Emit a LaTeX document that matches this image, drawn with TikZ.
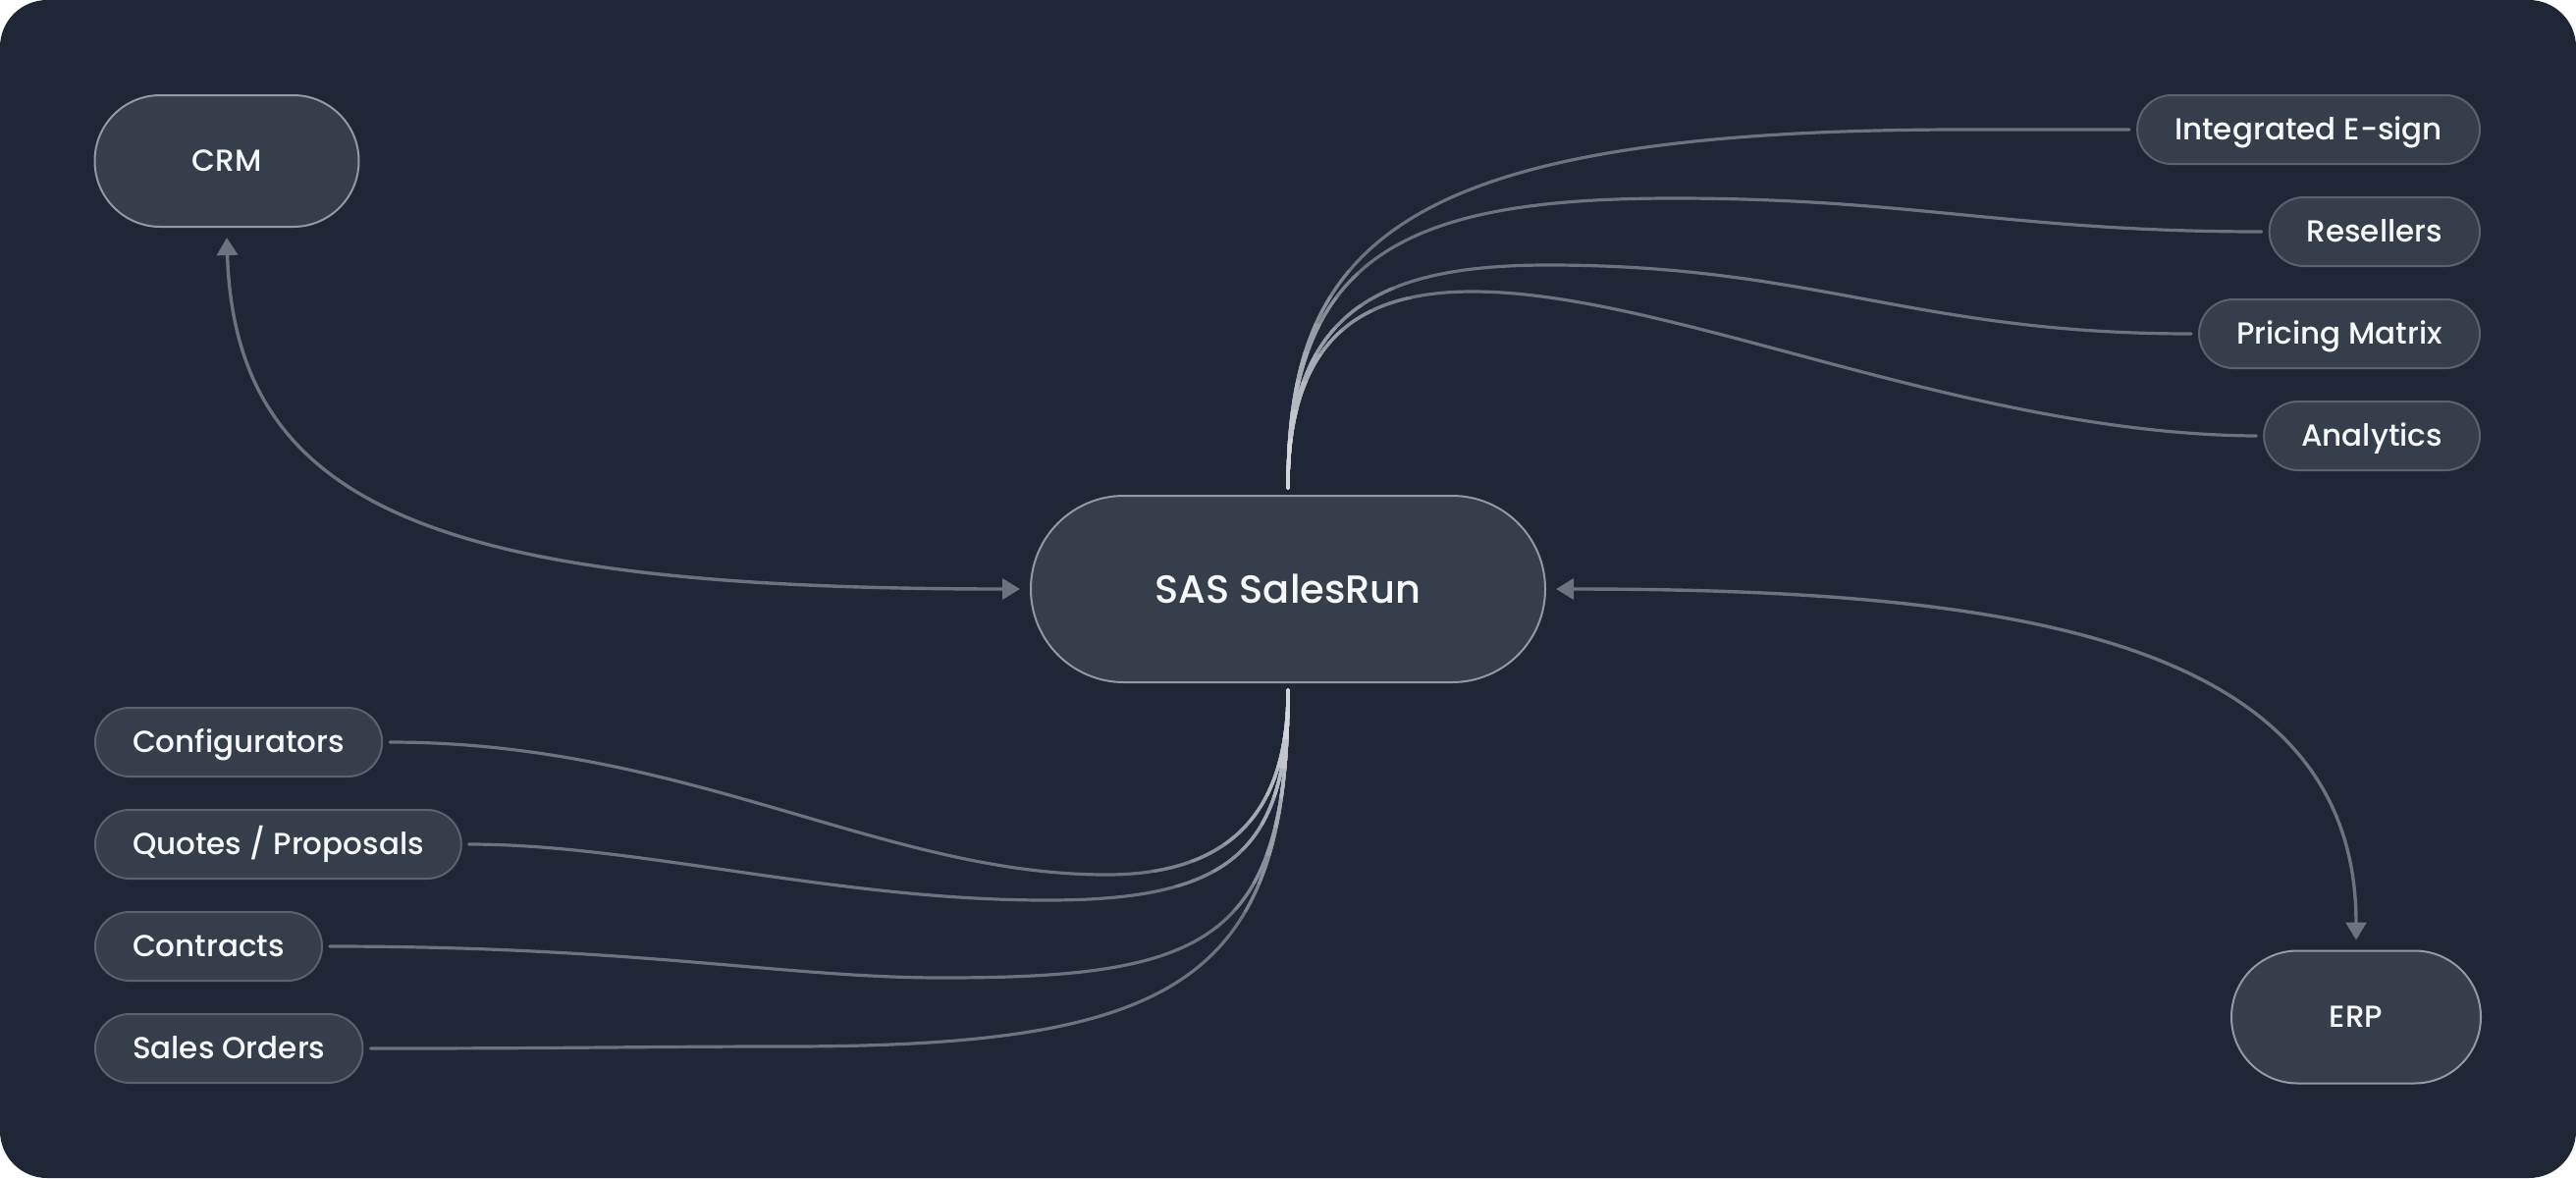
\documentclass[tikz,border=0pt]{standalone}
\usepackage{fontspec}
\IfFontExistsTF{Poppins Medium}{\setmainfont{Poppins Medium}}{\setmainfont{Poppins}[FakeBold=0.5]}
\usetikzlibrary{arrows.meta}
\definecolor{bg}{HTML}{1F2737}
\definecolor{nodefill}{HTML}{363E4B}
\definecolor{bigborder}{HTML}{9399A4}
\definecolor{smallborder}{HTML}{5A6271}
\definecolor{wire}{HTML}{6B7380}
\definecolor{wirelight}{HTML}{D3D6DB}
\definecolor{txt}{HTML}{F7F8FA}
\newcommand{\topwires}[1]{%
  \draw[wirestyle,#1] (tt) .. controls (1312,250) and (1420,132) .. (2000,132) -- (es);
  \draw[wirestyle,#1] (tt) .. controls (1312,260) and (1430,202) .. (1705,202) .. controls (1950,202) and (2050,236) .. (rs);
  \draw[wirestyle,#1] (tt) .. controls (1312,320) and (1400,270) .. (1577,270) .. controls (1850,270) and (1950,340) .. (ps);
  \draw[wirestyle,#1] (tt) .. controls (1312,350) and (1380,297) .. (1500,297) .. controls (1700,297) and (2000,442) .. (as);
}
\newcommand{\botwires}[1]{%
  \draw[wirestyle,#1] (cs) .. controls (700,756) and (900,891) .. (1127,891) .. controls (1260,891) and (1312,820) .. (tb);
  \draw[wirestyle,#1] (qs) .. controls (650,860) and (850,917) .. (1066,917) .. controls (1250,917) and (1312,870) .. (tb);
  \draw[wirestyle,#1] (ks) .. controls (650,964) and (800,996) .. (960,996) .. controls (1230,996) and (1312,960) .. (tb);
  \draw[wirestyle,#1] (ss) .. controls (600,1068) and (650,1066) .. (800,1066) .. controls (1200,1066) and (1312,1000) .. (tb);
}
\begin{document}
\begin{tikzpicture}[x=0.5pt,y=-0.5pt,
  bigpill/.style={draw=bigborder, line width=1pt, fill=nodefill, text=txt,
    inner sep=0pt, text height=10.9pt, text depth=0pt,
    font=\fontsize{15.5pt}{18pt}\selectfont},
  smallpill/.style={draw=smallborder, line width=1pt, fill=nodefill, text=txt,
    inner xsep=19pt, inner ysep=0pt, minimum height=35pt, rounded corners=17.45pt,
    text height=10.9pt, text depth=0pt,
    font=\fontsize{15.5pt}{18pt}\selectfont},
  wirestyle/.style={line width=1.6pt, line cap=round},
  arrowline/.style={draw=wire, line width=1.7pt, {Triangle[length=9pt,width=10.5pt]}-{Triangle[length=9pt,width=10.5pt]}}
]
\useasboundingbox (0,0) rectangle (2624,1200);
\fill[white] (0,0) rectangle (2624,1200);
\fill[bg, rounded corners=24pt] (0,0) rectangle (2624,1200);

% main nodes
\node[bigpill, minimum width=134.5pt, minimum height=67pt, rounded corners=33.45pt] (crm) at (231,164) {CRM};
\node[bigpill, minimum width=262pt, minimum height=95pt, rounded corners=47.45pt,
  text height=14pt, font=\fontsize{20pt}{24pt}\selectfont] (sas) at (1312,600) {SAS SalesRun};
\node[bigpill, minimum width=127pt, minimum height=67.5pt, rounded corners=33.7pt] (erp) at (2400,1036) {ERP};

% right nodes
\node[smallpill, anchor=east] (esign) at (2527,132) {Integrated E-sign};
\node[smallpill, anchor=east] (resell) at (2527,236) {Resellers};
\node[smallpill, anchor=east] (pricing) at (2527,340) {Pricing Matrix};
\node[smallpill, anchor=east] (analytics) at (2527,444) {Analytics};

% left nodes
\node[smallpill, anchor=west] (conf) at (96,756) {Configurators};
\node[smallpill, anchor=west] (quotes) at (96,860) {Quotes / Proposals};
\node[smallpill, anchor=west] (contracts) at (96,964) {Contracts};
\node[smallpill, anchor=west] (orders) at (96,1068) {Sales Orders};

% connector end points
\coordinate (tt) at ([yshift=3.5pt]sas.north);
\coordinate (tb) at ([yshift=-3.5pt]sas.south);
\coordinate (es) at ([xshift=-3.5pt]esign.west);
\coordinate (rs) at ([xshift=-3.5pt]resell.west);
\coordinate (ps) at ([xshift=-3.5pt]pricing.west);
\coordinate (as) at ([xshift=-3.5pt]analytics.west);
\coordinate (cs) at ([xshift=3.5pt]conf.east);
\coordinate (qs) at ([xshift=3.5pt]quotes.east);
\coordinate (ks) at ([xshift=3.5pt]contracts.east);
\coordinate (ss) at ([xshift=3.5pt]orders.east);
\coordinate (crmtip) at ([yshift=-5pt]crm.south);
\coordinate (sasl) at ([xshift=-5pt]sas.west);
\coordinate (sasr) at ([xshift=5pt]sas.east);
\coordinate (erptip) at ([yshift=5pt]erp.north);

% wires
\topwires{draw=wire}
\botwires{draw=wire}
\foreach \r/\p in {230/14, 200/28, 170/42, 140/56, 110/70, 80/84, 50/100}{
  \begin{scope}
    \clip (tt) circle (\r);
    \topwires{draw=wirelight!\p!wire}
  \end{scope}
  \begin{scope}
    \clip (tb) circle (\r);
    \botwires{draw=wirelight!\p!wire}
  \end{scope}
}

% arrows
\draw[arrowline] (crmtip) .. controls (240,520) and (450,600) .. (sasl);
\draw[arrowline] (sasr) .. controls (2050,600) and (2400,650) .. (erptip);
\end{tikzpicture}
\end{document}
